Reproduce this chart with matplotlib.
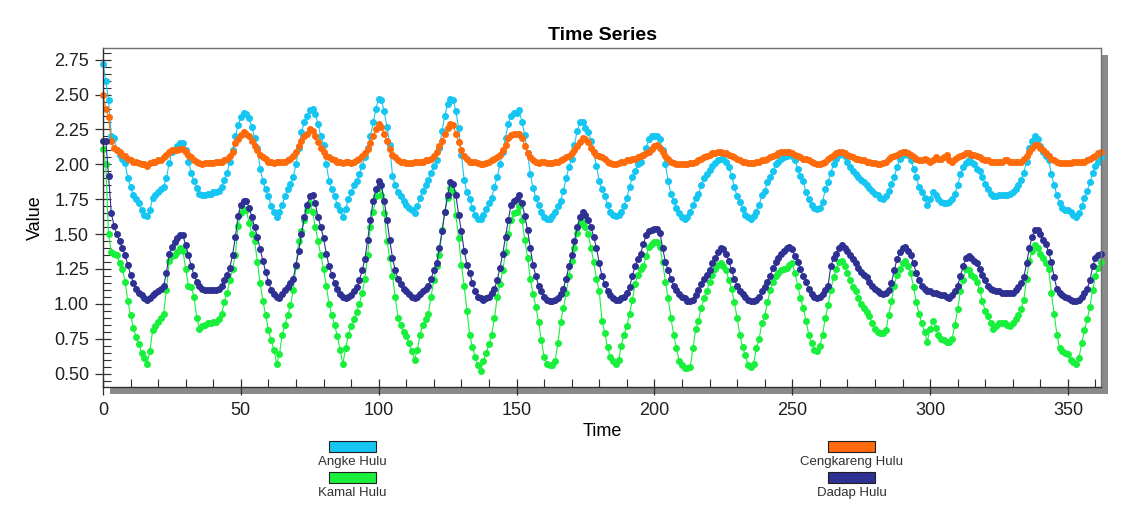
import numpy as np
import matplotlib
matplotlib.use("Agg")
import matplotlib.pyplot as plt
from matplotlib.patches import Rectangle
from matplotlib.ticker import MultipleLocator

# daily values, t = 0 .. 362
angke = [2.72, 2.60, 2.46, 2.20, 2.19, 2.10, 2.07, 2.04, 2.01, 1.90,
         1.84, 1.78, 1.75, 1.72, 1.67, 1.64, 1.63, 1.67, 1.76, 1.78,
         1.80, 1.82, 1.84, 1.90, 2.01, 2.09, 2.10, 2.13, 2.15, 2.15,
         2.10, 2.02, 1.94, 1.88, 1.83, 1.79, 1.78, 1.78, 1.79, 1.79,
         1.80, 1.80, 1.81, 1.84, 1.89, 1.94, 2.02, 2.10, 2.20, 2.28,
         2.34, 2.37, 2.36, 2.33, 2.27, 2.19, 2.12, 1.97, 1.88, 1.82,
         1.77, 1.70, 1.66, 1.62, 1.66, 1.71, 1.77, 1.82, 1.86, 1.91,
         2.00, 2.12, 2.23, 2.30, 2.35, 2.39, 2.40, 2.36, 2.29, 2.20,
         2.14, 2.00, 1.88, 1.82, 1.77, 1.71, 1.67, 1.62, 1.68, 1.75,
         1.80, 1.85, 1.88, 1.93, 1.99, 2.05, 2.12, 2.20, 2.30, 2.40,
         2.47, 2.46, 2.38, 2.27, 2.14, 1.92, 1.85, 1.80, 1.77, 1.74,
         1.71, 1.69, 1.67, 1.65, 1.70, 1.76, 1.81, 1.85, 1.89, 1.94,
         1.99, 2.03, 2.12, 2.24, 2.35, 2.43, 2.47, 2.46, 2.38, 2.26,
         2.07, 1.89, 1.80, 1.75, 1.69, 1.64, 1.61, 1.61, 1.64, 1.68,
         1.72, 1.76, 1.84, 1.91, 2.00, 2.09, 2.19, 2.29, 2.35, 2.37,
         2.37, 2.39, 2.30, 2.21, 2.08, 1.93, 1.83, 1.76, 1.71, 1.66,
         1.62, 1.61, 1.61, 1.63, 1.66, 1.70, 1.74, 1.81, 1.90, 1.98,
         2.04, 2.14, 2.24, 2.30, 2.30, 2.26, 2.23, 2.17, 2.09, 1.99,
         1.88, 1.82, 1.77, 1.71, 1.66, 1.64, 1.63, 1.64, 1.66, 1.70,
         1.76, 1.84, 1.91, 1.95, 2.00, 2.02, 2.07, 2.12, 2.18, 2.20,
         2.20, 2.20, 2.18, 2.10, 2.00, 1.88, 1.79, 1.74, 1.69, 1.65,
         1.62, 1.61, 1.62, 1.66, 1.71, 1.76, 1.79, 1.85, 1.90, 1.93,
         1.96, 1.99, 2.01, 2.03, 2.04, 2.04, 2.02, 1.98, 1.92, 1.84,
         1.77, 1.73, 1.68, 1.64, 1.62, 1.61, 1.63, 1.66, 1.71, 1.78,
         1.81, 1.87, 1.91, 1.95, 2.00, 2.02, 2.04, 2.05, 2.06, 2.07,
         2.06, 2.03, 1.97, 1.92, 1.88, 1.80, 1.75, 1.71, 1.69, 1.68,
         1.69, 1.73, 1.82, 1.87, 1.94, 2.00, 2.04, 2.07, 2.08, 2.06,
         2.02, 1.98, 1.95, 1.93, 1.91, 1.89, 1.87, 1.85, 1.83, 1.81,
         1.79, 1.78, 1.76, 1.75, 1.77, 1.81, 1.86, 1.91, 1.98, 2.04,
         2.07, 2.09, 2.07, 2.03, 1.97, 1.91, 1.84, 1.80, 1.76, 1.71,
         1.75, 1.80, 1.78, 1.75, 1.73, 1.72, 1.72, 1.73, 1.75, 1.79,
         1.85, 1.93, 1.98, 2.01, 2.03, 2.02, 2.00, 1.97, 1.95, 1.91,
         1.86, 1.82, 1.79, 1.77, 1.77, 1.78, 1.78, 1.78, 1.78, 1.79,
         1.80, 1.82, 1.85, 1.89, 1.94, 2.02, 2.12, 2.17, 2.20, 2.18,
         2.13, 2.09, 2.06, 2.03, 1.93, 1.85, 1.78, 1.72, 1.69, 1.67,
         1.67, 1.66, 1.64, 1.62, 1.65, 1.70, 1.76, 1.81, 1.87, 1.94,
         1.99, 2.02, 2.05]

cengkareng = [2.50, 2.40, 2.34, 2.17, 2.12, 2.10, 2.09, 2.07, 2.06, 2.04,
              2.03, 2.02, 2.02, 2.01, 2.00, 2.00, 1.99, 2.01, 2.02, 2.02,
              2.03, 2.03, 2.05, 2.07, 2.09, 2.10, 2.10, 2.10, 2.11, 2.11,
              2.09, 2.07, 2.05, 2.03, 2.02, 2.01, 2.00, 2.01, 2.01, 2.01,
              2.01, 2.02, 2.02, 2.02, 2.03, 2.04, 2.06, 2.09, 2.15, 2.18,
              2.21, 2.23, 2.22, 2.20, 2.17, 2.13, 2.10, 2.07, 2.05, 2.04,
              2.02, 2.02, 2.01, 2.02, 2.02, 2.02, 2.02, 2.03, 2.04, 2.06,
              2.09, 2.13, 2.17, 2.20, 2.22, 2.25, 2.24, 2.20, 2.16, 2.12,
              2.09, 2.06, 2.05, 2.04, 2.03, 2.02, 2.02, 2.01, 2.02, 2.02,
              2.01, 2.02, 2.03, 2.04, 2.06, 2.08, 2.11, 2.15, 2.20, 2.25,
              2.29, 2.27, 2.22, 2.17, 2.11, 2.07, 2.05, 2.03, 2.02, 2.02,
              2.01, 2.01, 2.01, 2.02, 2.02, 2.02, 2.02, 2.03, 2.03, 2.04,
              2.06, 2.09, 2.13, 2.17, 2.22, 2.26, 2.29, 2.28, 2.22, 2.16,
              2.10, 2.06, 2.04, 2.02, 2.02, 2.02, 2.01, 2.00, 2.00, 2.01,
              2.02, 2.03, 2.04, 2.05, 2.07, 2.10, 2.14, 2.19, 2.21, 2.22,
              2.22, 2.22, 2.19, 2.13, 2.08, 2.05, 2.03, 2.02, 2.01, 2.02,
              2.02, 2.01, 2.01, 2.01, 2.02, 2.02, 2.03, 2.04, 2.05, 2.06,
              2.08, 2.10, 2.13, 2.16, 2.19, 2.18, 2.16, 2.12, 2.09, 2.07,
              2.06, 2.05, 2.04, 2.02, 2.01, 2.00, 2.00, 2.01, 2.02, 2.02,
              2.03, 2.03, 2.04, 2.04, 2.05, 2.06, 2.07, 2.08, 2.09, 2.11,
              2.13, 2.14, 2.12, 2.09, 2.06, 2.04, 2.02, 2.01, 2.00, 2.00,
              2.00, 2.00, 2.00, 2.01, 2.01, 2.02, 2.03, 2.04, 2.05, 2.06,
              2.07, 2.08, 2.08, 2.09, 2.09, 2.08, 2.08, 2.07, 2.06, 2.05,
              2.04, 2.03, 2.02, 2.02, 2.01, 2.01, 2.01, 2.02, 2.02, 2.03,
              2.03, 2.04, 2.05, 2.06, 2.07, 2.08, 2.09, 2.09, 2.09, 2.09,
              2.08, 2.07, 2.06, 2.05, 2.04, 2.04, 2.03, 2.02, 2.01, 2.00,
              2.00, 2.01, 2.02, 2.04, 2.05, 2.07, 2.08, 2.09, 2.09, 2.08,
              2.07, 2.06, 2.05, 2.04, 2.04, 2.03, 2.03, 2.02, 2.02, 2.01,
              2.01, 2.00, 2.00, 2.01, 2.02, 2.04, 2.05, 2.06, 2.07, 2.08,
              2.09, 2.09, 2.08, 2.07, 2.05, 2.04, 2.03, 2.03, 2.04, 2.03,
              2.02, 2.03, 2.05, 2.04, 2.04, 2.05, 2.07, 2.03, 2.02, 2.04,
              2.05, 2.06, 2.07, 2.08, 2.08, 2.07, 2.07, 2.06, 2.05, 2.04,
              2.03, 2.03, 2.02, 2.02, 2.02, 2.02, 2.02, 2.03, 2.03, 2.02,
              2.02, 2.02, 2.02, 2.02, 2.04, 2.06, 2.09, 2.12, 2.14, 2.14,
              2.12, 2.10, 2.08, 2.06, 2.04, 2.03, 2.02, 2.01, 2.01, 2.01,
              2.01, 2.01, 2.02, 2.02, 2.02, 2.02, 2.02, 2.03, 2.04, 2.05,
              2.06, 2.08, 2.09]

kamal = [2.11, 2.00, 1.50, 1.37, 1.36, 1.35, 1.29, 1.25, 1.16, 1.02,
         0.92, 0.83, 0.76, 0.71, 0.65, 0.61, 0.57, 0.66, 0.81, 0.84,
         0.87, 0.90, 0.93, 1.10, 1.31, 1.34, 1.35, 1.37, 1.40, 1.38,
         1.25, 1.13, 1.12, 1.05, 0.90, 0.82, 0.84, 0.85, 0.86, 0.86,
         0.87, 0.87, 0.89, 0.93, 1.01, 1.08, 1.17, 1.25, 1.35, 1.56,
         1.65, 1.68, 1.67, 1.58, 1.50, 1.45, 1.30, 1.15, 1.02, 0.92,
         0.81, 0.74, 0.67, 0.57, 0.64, 0.78, 0.85, 0.92, 0.99, 1.10,
         1.27, 1.45, 1.52, 1.60, 1.67, 1.72, 1.66, 1.55, 1.45, 1.35,
         1.25, 1.13, 1.00, 0.92, 0.85, 0.77, 0.67, 0.57, 0.68, 0.78,
         0.84, 0.89, 0.94, 1.00, 1.08, 1.18, 1.35, 1.55, 1.66, 1.77,
         1.83, 1.78, 1.65, 1.45, 1.33, 1.20, 1.05, 0.90, 0.85, 0.80,
         0.77, 0.72, 0.66, 0.60, 0.67, 0.78, 0.85, 0.89, 0.93, 1.05,
         1.17, 1.27, 1.35, 1.53, 1.66, 1.76, 1.83, 1.80, 1.64, 1.47,
         1.28, 1.13, 0.95, 0.78, 0.69, 0.62, 0.56, 0.52, 0.59, 0.65,
         0.71, 0.78, 0.90, 1.05, 1.14, 1.24, 1.37, 1.50, 1.60, 1.65,
         1.66, 1.70, 1.60, 1.46, 1.33, 1.18, 1.07, 0.98, 0.87, 0.74,
         0.62, 0.57, 0.56, 0.56, 0.59, 0.72, 0.87, 0.97, 1.08, 1.20,
         1.31, 1.40, 1.51, 1.57, 1.59, 1.55, 1.50, 1.40, 1.30, 1.18,
         1.09, 0.88, 0.79, 0.69, 0.62, 0.59, 0.57, 0.60, 0.70, 0.78,
         0.84, 0.93, 1.03, 1.14, 1.21, 1.25, 1.27, 1.34, 1.41, 1.43,
         1.44, 1.44, 1.41, 1.30, 1.16, 1.04, 0.90, 0.78, 0.68, 0.59,
         0.56, 0.54, 0.54, 0.55, 0.68, 0.82, 0.88, 0.97, 1.04, 1.09,
         1.16, 1.21, 1.25, 1.28, 1.29, 1.27, 1.24, 1.17, 1.11, 1.01,
         0.90, 0.78, 0.69, 0.63, 0.56, 0.55, 0.57, 0.68, 0.75, 0.86,
         0.91, 1.01, 1.10, 1.16, 1.20, 1.22, 1.24, 1.25, 1.26, 1.28,
         1.29, 1.22, 1.13, 1.04, 0.97, 0.88, 0.78, 0.72, 0.67, 0.66,
         0.70, 0.78, 0.90, 0.99, 1.10, 1.19, 1.25, 1.30, 1.31, 1.27,
         1.22, 1.17, 1.12, 1.09, 1.04, 1.00, 0.97, 0.94, 0.91, 0.86,
         0.82, 0.80, 0.79, 0.79, 0.81, 0.92, 1.02, 1.13, 1.21, 1.25,
         1.29, 1.31, 1.27, 1.22, 1.12, 1.01, 0.93, 0.86, 0.80, 0.73,
         0.82, 0.88, 0.83, 0.78, 0.75, 0.74, 0.73, 0.73, 0.75, 0.85,
         0.96, 1.09, 1.17, 1.25, 1.24, 1.21, 1.19, 1.16, 1.10, 1.02,
         0.95, 0.91, 0.86, 0.82, 0.84, 0.86, 0.86, 0.86, 0.85, 0.84,
         0.86, 0.89, 0.92, 0.96, 1.03, 1.18, 1.31, 1.38, 1.42, 1.40,
         1.36, 1.33, 1.29, 1.25, 1.08, 0.93, 0.78, 0.68, 0.66, 0.65,
         0.64, 0.60, 0.58, 0.57, 0.61, 0.72, 0.81, 0.89, 0.98, 1.10,
         1.20, 1.26, 1.30]

dadap = [2.17, 2.17, 1.92, 1.65, 1.56, 1.50, 1.45, 1.40, 1.35, 1.28,
         1.21, 1.15, 1.11, 1.08, 1.06, 1.04, 1.03, 1.04, 1.06, 1.08,
         1.09, 1.11, 1.13, 1.22, 1.36, 1.41, 1.44, 1.47, 1.49, 1.49,
         1.42, 1.35, 1.27, 1.21, 1.16, 1.13, 1.11, 1.10, 1.10, 1.10,
         1.10, 1.10, 1.11, 1.13, 1.17, 1.21, 1.26, 1.35, 1.48, 1.63,
         1.71, 1.74, 1.74, 1.69, 1.62, 1.55, 1.48, 1.39, 1.31, 1.23,
         1.16, 1.10, 1.07, 1.05, 1.04, 1.07, 1.10, 1.12, 1.15, 1.18,
         1.28, 1.38, 1.50, 1.62, 1.71, 1.77, 1.78, 1.72, 1.62, 1.55,
         1.47, 1.36, 1.27, 1.21, 1.15, 1.11, 1.07, 1.05, 1.04, 1.05,
         1.06, 1.09, 1.12, 1.17, 1.24, 1.32, 1.46, 1.60, 1.74, 1.82,
         1.88, 1.85, 1.74, 1.60, 1.46, 1.33, 1.24, 1.18, 1.14, 1.11,
         1.09, 1.07, 1.05, 1.04, 1.05, 1.07, 1.09, 1.11, 1.13, 1.18,
         1.24, 1.29, 1.40, 1.52, 1.66, 1.78, 1.87, 1.86, 1.78, 1.64,
         1.52, 1.38, 1.28, 1.22, 1.15, 1.09, 1.05, 1.04, 1.03, 1.04,
         1.05, 1.08, 1.11, 1.17, 1.26, 1.36, 1.48, 1.60, 1.71, 1.74,
         1.75, 1.78, 1.72, 1.63, 1.53, 1.40, 1.28, 1.20, 1.13, 1.09,
         1.05, 1.03, 1.02, 1.02, 1.03, 1.04, 1.07, 1.11, 1.18, 1.27,
         1.35, 1.45, 1.55, 1.62, 1.66, 1.64, 1.60, 1.55, 1.48, 1.40,
         1.29, 1.20, 1.14, 1.09, 1.06, 1.04, 1.03, 1.03, 1.04, 1.05,
         1.08, 1.12, 1.20, 1.27, 1.32, 1.36, 1.43, 1.49, 1.52, 1.53,
         1.54, 1.54, 1.51, 1.40, 1.30, 1.24, 1.18, 1.13, 1.10, 1.07,
         1.05, 1.04, 1.02, 1.02, 1.03, 1.06, 1.10, 1.14, 1.18, 1.21,
         1.24, 1.29, 1.33, 1.37, 1.40, 1.39, 1.36, 1.31, 1.24, 1.18,
         1.13, 1.09, 1.07, 1.05, 1.03, 1.02, 1.02, 1.03, 1.05, 1.09,
         1.12, 1.16, 1.20, 1.26, 1.30, 1.33, 1.36, 1.38, 1.40, 1.41,
         1.39, 1.34, 1.30, 1.25, 1.20, 1.16, 1.11, 1.07, 1.05, 1.04,
         1.05, 1.07, 1.10, 1.13, 1.27, 1.33, 1.36, 1.40, 1.42, 1.40,
         1.38, 1.35, 1.32, 1.29, 1.26, 1.23, 1.21, 1.19, 1.16, 1.13,
         1.11, 1.09, 1.08, 1.07, 1.08, 1.10, 1.15, 1.24, 1.32, 1.37,
         1.40, 1.41, 1.38, 1.35, 1.29, 1.22, 1.17, 1.13, 1.11, 1.09,
         1.09, 1.08, 1.08, 1.07, 1.06, 1.06, 1.05, 1.04, 1.06, 1.09,
         1.13, 1.20, 1.27, 1.33, 1.34, 1.33, 1.31, 1.29, 1.25, 1.21,
         1.17, 1.13, 1.11, 1.10, 1.09, 1.09, 1.08, 1.08, 1.08, 1.08,
         1.08, 1.10, 1.12, 1.15, 1.19, 1.29, 1.40, 1.48, 1.53, 1.53,
         1.50, 1.46, 1.43, 1.37, 1.30, 1.19, 1.11, 1.08, 1.06, 1.05,
         1.04, 1.03, 1.02, 1.02, 1.03, 1.05, 1.08, 1.11, 1.17, 1.27,
         1.33, 1.35, 1.36]

labels = ["Angke Hulu", "Cengkareng Hulu", "Kamal Hulu", "Dadap Hulu"]
colors = ["#16c6f2", "#ff6a0a", "#18f03c", "#2e3192"]

plt.rcParams['font.family'] = ['Liberation Sans', 'DejaVu Sans']


def draw_series(ax, values, color):
    t = np.arange(len(values))
    ax.plot(t, values, color=color, lw=0.8, marker='o', ms=4.0,
            mec=color, mfc=color, clip_on=False)


def draw_legend(fig, W, H):
    # legend boxes sit under the axis, two columns, text under each box
    box_x = [329, 828, 329, 828]
    box_y = [441, 441, 472, 472]
    for lab, col, x, y in zip(labels, colors, box_x, box_y):
        fig.patches.append(Rectangle((x / W, 1 - (y + 11) / H), 47 / W, 11 / H,
                                     transform=fig.transFigure, fc=col,
                                     ec='#202020', lw=0.8))
        fig.text((x + 23.5) / W, 1 - (y + 21) / H, lab, ha='center',
                 va='center', fontsize=9.5, color='#303030')


def main():
    W, H = 1141, 520
    fig = plt.figure(figsize=(W / 100, H / 100), dpi=100)
    left, right, top, bottom = 103, 1101, 48, 387
    ax = fig.add_axes([left / W, 1 - bottom / H, (right - left) / W, (bottom - top) / H])
    ax.set_zorder(2)

    # drop shadow behind the plot area
    fig.patches.append(Rectangle(((left + 7) / W, 1 - (bottom + 7) / H),
                                 (right - left) / W, (bottom - top) / H,
                                 transform=fig.transFigure, fc='#8a8a8a',
                                 ec='none', zorder=0))

    for vals, col in zip([angke, cengkareng, kamal, dadap], colors):
        draw_series(ax, vals, col)

    ax.set_xlim(0, 362)
    ax.set_ylim(0.404, 2.834)
    ax.xaxis.set_major_locator(MultipleLocator(50))
    ax.xaxis.set_minor_locator(MultipleLocator(10))
    ax.yaxis.set_major_locator(MultipleLocator(0.25))
    ax.yaxis.set_minor_locator(MultipleLocator(0.05))
    ax.yaxis.set_major_formatter(matplotlib.ticker.FormatStrFormatter('%.2f'))
    ax.tick_params(which='major', direction='inout', length=12, width=0.9,
                   labelsize=13, color='#303030', labelcolor='#202020')
    ax.tick_params(which='minor', direction='in', length=6, width=0.8, color='#303030')
    ax.tick_params(axis='x', which='major', pad=5)
    ax.tick_params(axis='y', which='major', pad=4)
    for side in ['top', 'right']:
        ax.spines[side].set_color('#707070')
        ax.spines[side].set_linewidth(1.0)
    for side in ['left', 'bottom']:
        ax.spines[side].set_color('#303030')
        ax.spines[side].set_linewidth(1.0)

    ax.set_title('Time Series', fontsize=14, fontweight='bold', pad=6)
    ax.set_xlabel('Time', fontsize=13, labelpad=3)
    ax.set_ylabel('Value', fontsize=13, labelpad=7)

    draw_legend(fig, W, H)
    fig.savefig('out.png', dpi=100)


if __name__ == "__main__":
    main()
